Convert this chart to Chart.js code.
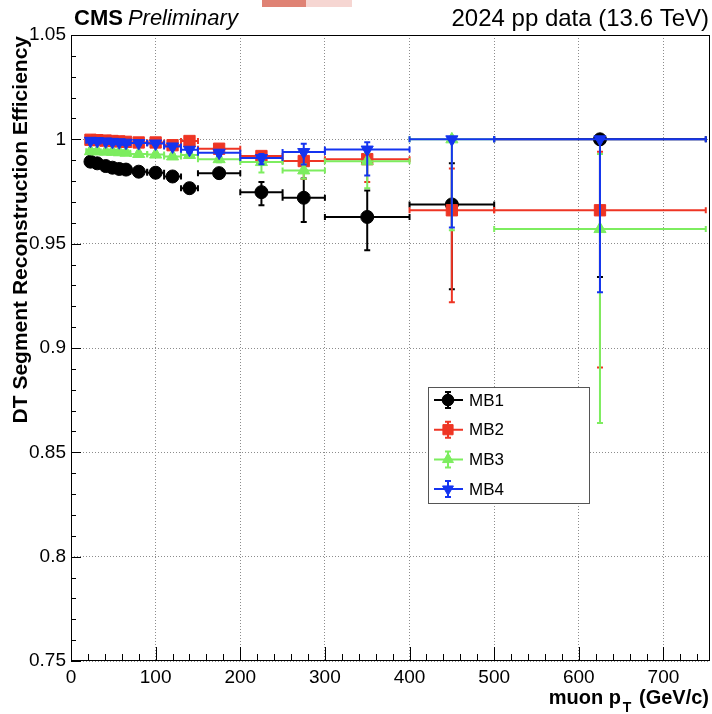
<!DOCTYPE html>
<html>
<head>
<meta charset="utf-8">
<script src="https://cdn.jsdelivr.net/npm/chart.js@4.4.1/dist/chart.umd.min.js"></script>
<style>
  html, body { margin: 0; padding: 0; background: #fff; }
  #wrap { width: 712px; height: 714px; }
</style>
</head>
<body>
<div id="wrap"><canvas id="chart" width="712" height="714"></canvas></div>
<script>
// muon pT bins (GeV/c)
const ptCenters = [23, 31, 41, 49, 57, 65, 80, 100, 120, 140, 175, 225, 275, 350, 450, 625];
const binLow    = [18, 27, 35, 45, 53, 61, 70, 90, 110, 130, 150, 200, 250, 300, 400, 500];
const binHigh   = [27, 35, 45, 53, 61, 70, 90, 110, 130, 150, 200, 250, 300, 400, 500, 750];

// efficiencies per station
const mb1Eff  = [0.9893, 0.9885, 0.9872, 0.9864, 0.9858, 0.9855, 0.9845, 0.9840, 0.9822, 0.9766, 0.9838, 0.9747, 0.9720, 0.9628, 0.9688, 1.0];
const mb1Up   = [0.0006, 0.0006, 0.0007, 0.0008, 0.0009, 0.0010, 0.0010, 0.0012, 0.0015, 0.0020, 0.0018, 0.0048, 0.0092, 0.0127, 0.0197, 0.0];
const mb1Down = [0.0006, 0.0006, 0.0007, 0.0008, 0.0009, 0.0010, 0.0010, 0.0012, 0.0015, 0.0020, 0.0020, 0.0063, 0.0116, 0.0160, 0.0407, 0.0660];

const mb2Eff  = [0.9998, 0.9996, 0.9994, 0.9992, 0.9990, 0.9988, 0.9985, 0.9985, 0.9972, 0.9992, 0.9955, 0.9920, 0.9896, 0.9905, 0.9660, 0.9660];
const mb2Up   = [0.0002, 0.0003, 0.0003, 0.0004, 0.0004, 0.0005, 0.0005, 0.0006, 0.0008, 0.0006, 0.0010, 0.0015, 0.0030, 0.0035, 0.0200, 0.0280];
const mb2Down = [0.0003, 0.0003, 0.0004, 0.0004, 0.0005, 0.0005, 0.0006, 0.0007, 0.0010, 0.0010, 0.0015, 0.0020, 0.0086, 0.0110, 0.0441, 0.0753];

const mb3Eff  = [0.9943, 0.9942, 0.9941, 0.9940, 0.9938, 0.9936, 0.9930, 0.9927, 0.9918, 0.9925, 0.9905, 0.9891, 0.9851, 0.9895, 1.0, 0.9570];
const mb3Up   = [0.0004, 0.0004, 0.0005, 0.0005, 0.0006, 0.0006, 0.0007, 0.0008, 0.0010, 0.0012, 0.0012, 0.0020, 0.0030, 0.0040, 0.0, 0.0360];
const mb3Down = [0.0005, 0.0005, 0.0005, 0.0006, 0.0006, 0.0007, 0.0008, 0.0009, 0.0012, 0.0014, 0.0015, 0.0050, 0.0040, 0.0130, 0.0436, 0.0930];

const mb4Eff  = [0.9993, 0.9992, 0.9990, 0.9988, 0.9986, 0.9984, 0.9982, 0.9980, 0.9966, 0.9950, 0.9936, 0.9910, 0.9939, 0.9951, 1.0, 1.0];
const mb4Up   = [0.0003, 0.0003, 0.0004, 0.0004, 0.0005, 0.0005, 0.0006, 0.0006, 0.0008, 0.0010, 0.0012, 0.0020, 0.0040, 0.0035, 0.0, 0.0];
const mb4Down = [0.0003, 0.0004, 0.0004, 0.0005, 0.0005, 0.0006, 0.0006, 0.0007, 0.0010, 0.0012, 0.0015, 0.0030, 0.0060, 0.0124, 0.0423, 0.0733];

const stations = ['MB1', 'MB2', 'MB3', 'MB4'];
const xTicks = [0, 100, 200, 300, 400, 500, 600, 700];
const yTicks = [0.75, 0.8, 0.85, 0.9, 0.95, 1, 1.05];

const FONT = '"Liberation Sans", Arial, Helvetica, sans-serif';

const series = [
  { eff: mb1Eff, up: mb1Up, down: mb1Down, color: '#000000', style: 'circle',   radius: 6.5, rot: 0 },
  { eff: mb2Eff, up: mb2Up, down: mb2Down, color: '#ee3524', style: 'rect',     radius: 8,   rot: 0 },
  { eff: mb3Eff, up: mb3Up, down: mb3Down, color: '#7ded5f', style: 'triangle', radius: 7,   rot: 0 },
  { eff: mb4Eff, up: mb4Up, down: mb4Down, color: '#1434f0', style: 'triangle', radius: 7,   rot: 180 }
];

const datasets = series.map((s, i) => ({
  label: stations[i],
  data: ptCenters.map((x, k) => ({ x: x, y: s.eff[k] })),
  showLine: false,
  pointStyle: s.style,
  pointRadius: s.radius,
  pointRotation: s.rot,
  pointBackgroundColor: s.color,
  pointBorderColor: s.color,
  pointBorderWidth: 1,
  order: 4 - i
}));

function drawErrBar(ctx, xs, ys, s, k, cap) {
  const x = xs.getPixelForValue(ptCenters[k]);
  const y = ys.getPixelForValue(s.eff[k]);
  const xl = xs.getPixelForValue(binLow[k]);
  const xh = xs.getPixelForValue(binHigh[k]);
  const yu = ys.getPixelForValue(s.eff[k] + s.up[k]);
  const yd = ys.getPixelForValue(s.eff[k] - s.down[k]);
  ctx.beginPath();
  ctx.moveTo(xl, y); ctx.lineTo(xh, y);
  ctx.moveTo(xl, y - cap); ctx.lineTo(xl, y + cap);
  ctx.moveTo(xh, y - cap); ctx.lineTo(xh, y + cap);
  ctx.moveTo(x, yu); ctx.lineTo(x, yd);
  if (s.up[k] > 0) { ctx.moveTo(x - cap, yu); ctx.lineTo(x + cap, yu); }
  ctx.moveTo(x - cap, yd); ctx.lineTo(x + cap, yd);
  ctx.stroke();
}

const rootStyle = {
  id: 'rootStyle',
  // pin the plot frame to the same pixels as the original pad
  afterLayout(chart) {
    const a = chart.chartArea;
    const xs = chart.scales.x;
    a.right = 710;
    a.width = a.right - a.left;
    xs.right = 710;
    xs.width = xs.right - xs.left;
    xs.configure();
  },
  beforeDraw(chart) {
    const ctx = chart.ctx;
    ctx.save();
    ctx.fillStyle = '#fff';
    ctx.fillRect(0, 0, chart.width, chart.height);
    // stray bar at top of the original screenshot
    ctx.fillStyle = '#df8274';
    ctx.fillRect(262, 0, 44, 7);
    ctx.fillStyle = '#f6d6d2';
    ctx.fillRect(306, 0, 46, 7);
    ctx.restore();
  },
  beforeDatasetDraw(chart, args) {
    const s = series[args.index];
    const ctx = chart.ctx;
    const xs = chart.scales.x, ys = chart.scales.y;
    const a = chart.chartArea;
    ctx.save();
    ctx.beginPath();
    ctx.rect(a.left, a.top, a.right - a.left, a.bottom - a.top);
    ctx.clip();
    ctx.strokeStyle = s.color;
    ctx.lineWidth = 2;
    for (let k = 0; k < ptCenters.length; k++) drawErrBar(ctx, xs, ys, s, k, 3);
    ctx.restore();
  },
  afterDraw(chart) {
    const ctx = chart.ctx;
    const a = chart.chartArea;
    const xs = chart.scales.x, ys = chart.scales.y;
    ctx.save();

    // frame
    ctx.strokeStyle = '#000';
    ctx.lineWidth = 1;
    ctx.strokeRect(a.left + 0.5, a.top + 0.5, a.right - a.left - 1, a.bottom - a.top - 1);

    // inward ticks, major + minor
    ctx.beginPath();
    for (let v = 0; v <= 740; v += 20) {
      const px = Math.round(xs.getPixelForValue(v)) + 0.5;
      const len = v % 100 === 0 ? 14 : 7;
      ctx.moveTo(px, a.bottom); ctx.lineTo(px, a.bottom - len);
    }
    for (let n = 75; n <= 105; n++) {
      const py = Math.round(ys.getPixelForValue(n / 100)) + 0.5;
      const len = n % 5 === 0 ? 10 : 5;
      ctx.moveTo(a.left, py); ctx.lineTo(a.left + len, py);
    }
    ctx.stroke();

    // header texts
    ctx.fillStyle = '#000';
    ctx.textBaseline = 'alphabetic';
    ctx.textAlign = 'left';
    ctx.font = 'bold 22px ' + FONT;
    ctx.fillText('CMS', 74, 25);
    const cmsW = ctx.measureText('CMS').width;
    ctx.font = 'italic 22px ' + FONT;
    ctx.fillText('Preliminary', 74 + cmsW + 5, 25);
    ctx.font = '24px ' + FONT;
    ctx.textAlign = 'right';
    ctx.fillText('2024 pp data (13.6 TeV)', 709, 26);

    // x axis title with subscript
    ctx.font = 'bold 20px ' + FONT;
    const part1 = 'muon p', part2 = ' (GeV/c)';
    const w1 = ctx.measureText(part1).width;
    const w3 = ctx.measureText(part2).width;
    ctx.font = 'bold 14px ' + FONT;
    const w2 = ctx.measureText('T').width + 4;
    const xEnd = 709;
    const x0 = xEnd - w3 - w2 - w1;
    ctx.textAlign = 'left';
    ctx.font = 'bold 20px ' + FONT;
    ctx.fillText(part1, x0, 704);
    ctx.fillText(part2, x0 + w1 + w2, 704);
    ctx.font = 'bold 14px ' + FONT;
    ctx.fillText('T', x0 + w1 + 2, 712);

    // y axis title
    ctx.save();
    ctx.translate(21, 36);
    ctx.rotate(-Math.PI / 2);
    ctx.font = 'bold 21px ' + FONT;
    ctx.textAlign = 'right';
    ctx.textBaseline = 'middle';
    ctx.fillText('DT Segment Reconstruction Efficiency', 0, 0);
    ctx.restore();

    // legend box
    const lx = 428, ly = 387, lw = 161, lh = 116;
    ctx.fillStyle = '#fff';
    ctx.fillRect(lx, ly, lw, lh);
    ctx.strokeStyle = '#555';
    ctx.lineWidth = 1;
    ctx.strokeRect(lx + 0.5, ly + 0.5, lw, lh);
    series.forEach((s, i) => {
      const cy = 400 + i * 29.7;
      const cx = 448;
      ctx.strokeStyle = s.color;
      ctx.fillStyle = s.color;
      ctx.lineWidth = 2;
      ctx.beginPath();
      ctx.moveTo(cx - 14, cy); ctx.lineTo(cx + 15, cy);
      ctx.moveTo(cx, cy - 8); ctx.lineTo(cx, cy + 8);
      ctx.moveTo(cx - 3, cy - 8); ctx.lineTo(cx + 3, cy - 8);
      ctx.moveTo(cx - 3, cy + 8); ctx.lineTo(cx + 3, cy + 8);
      ctx.stroke();
      ctx.lineWidth = 1;
      Chart.helpers.drawPoint(ctx, { pointStyle: s.style, radius: s.radius * 0.9, rotation: s.rot, borderWidth: 1 }, cx, cy);
      ctx.fillStyle = '#000';
      ctx.font = '17px ' + FONT;
      ctx.textAlign = 'left';
      ctx.textBaseline = 'middle';
      ctx.fillText(stations[i], 469, cy + 1);
    });
    ctx.restore();
  }
};

new Chart(document.getElementById('chart'), {
  type: 'scatter',
  data: { datasets: datasets },
  options: {
    responsive: false,
    animation: false,
    devicePixelRatio: 1,
    layout: { padding: { top: 35, right: 2, left: 0, bottom: 0 } },
    plugins: { legend: { display: false }, tooltip: { enabled: false } },
    scales: {
      x: {
        type: 'linear', min: 0, max: 755,
        afterFit: (s) => { s.height = 53; },
        afterBuildTicks: (s) => { s.ticks = xTicks.map(v => ({ value: v })); },
        ticks: { color: '#000', font: { family: FONT, size: 19 }, padding: 5, maxRotation: 0, autoSkip: false },
        grid: { color: '#8c8c8c', lineWidth: 1, drawTicks: false },
        border: { display: false, dash: [1, 2] }
      },
      y: {
        type: 'linear', min: 0.75, max: 1.05,
        afterFit: (s) => { s.width = 71; },
        afterBuildTicks: (s) => { s.ticks = yTicks.map(v => ({ value: v })); },
        ticks: { color: '#000', font: { family: FONT, size: 19 }, padding: 5, autoSkip: false,
                 callback: (v) => String(+Number(v).toFixed(2)) },
        grid: { color: '#8c8c8c', lineWidth: 1, drawTicks: false },
        border: { display: false, dash: [1, 2] }
      }
    }
  },
  plugins: [rootStyle]
});
</script>
</body>
</html>
